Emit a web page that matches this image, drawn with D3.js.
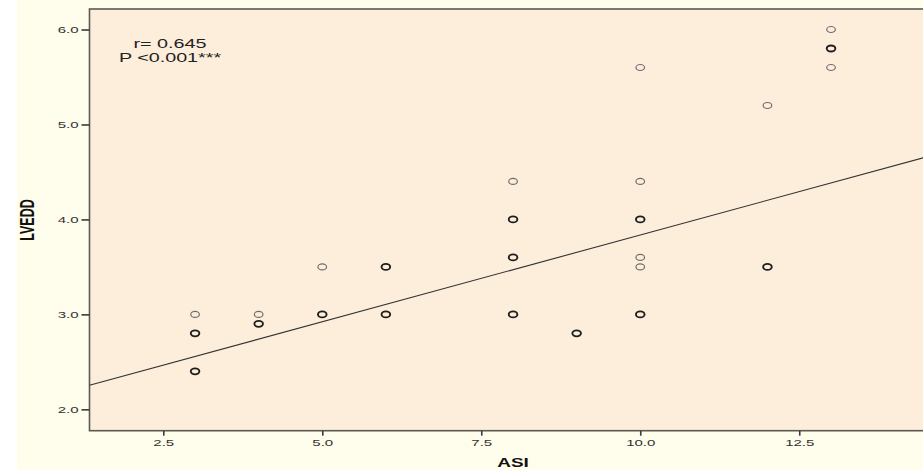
<!DOCTYPE html>
<html>
<head>
<meta charset="utf-8">
<script src="https://cdn.jsdelivr.net/npm/d3@7"></script>
<style>
  html, body { margin: 0; padding: 0; background: #ffffff; }
  svg { display: block; font-family: "Liberation Sans", Arial, sans-serif; }
</style>
</head>
<body>
<div id="container"></div>
<script>
const WIDTH = 923;
const HEIGHT = 472;
// the original picture is stretched sideways, so text gets the same stretch
const STRETCH = 1.58;

// data
const asi = [3, 3, 3, 4, 4, 5, 5, 6, 6, 8, 8, 8, 8, 9, 10, 10, 10, 10, 10, 10, 12, 12, 13, 13, 13];
const lvedd = [3.0, 2.8, 2.4, 3.0, 2.9, 3.5, 3.0, 3.5, 3.0, 4.4, 4.0, 3.6, 3.0, 2.8, 5.6, 4.4, 4.0, 3.6, 3.5, 3.0, 5.2, 3.5, 6.0, 5.8, 5.6];
// 2 = overlapping cases drawn darker
const overlap = [1, 2, 2, 1, 2, 1, 2, 2, 2, 1, 2, 2, 2, 2, 1, 1, 2, 1, 1, 2, 1, 2, 1, 2, 1];
const xTicks = [2.5, 5.0, 7.5, 10.0, 12.5];
const yTicks = [2.0, 3.0, 4.0, 5.0, 6.0];
const fitIntercept = 2.008;
const fitSlope = 0.1828;
const statLines = ["r= 0.645", "P <0.001***"];

const data = asi.map((d, i) => ({ x: d, y: lvedd[i], n: overlap[i] }));

const plot = { left: 89.5, top: 9, bottom: 430.7, right: 940 };

const svg = d3
  .select("#container")
  .append("svg")
  .attr("width", WIDTH)
  .attr("height", HEIGHT);

// cream outer panel
svg
  .append("rect")
  .attr("x", 17)
  .attr("y", 0)
  .attr("width", WIDTH - 17)
  .attr("height", 470)
  .style("fill", "#fffdeb");

const xScale = d3.scaleLinear().domain([1.34, 14.6]).range([plot.left, 932.8]);
const yScale = d3.scaleLinear().domain([1.775, 6.216]).range([plot.bottom, plot.top]);

// plot area
svg
  .append("rect")
  .attr("x", plot.left)
  .attr("y", plot.top)
  .attr("width", plot.right - plot.left)
  .attr("height", plot.bottom - plot.top)
  .style("fill", "#fdeddb")
  .style("stroke", "#5a5a55")
  .style("stroke-width", 1.6);

svg
  .append("clipPath")
  .attr("id", "clip")
  .append("rect")
  .attr("x", plot.left)
  .attr("y", plot.top)
  .attr("width", plot.right - plot.left)
  .attr("height", plot.bottom - plot.top);

// axes
const xAxis = d3
  .axisBottom(xScale)
  .tickValues(xTicks)
  .tickFormat(d3.format(".1f"))
  .tickSize(5)
  .tickSizeOuter(0);

const yAxis = d3
  .axisLeft(yScale)
  .tickValues(yTicks)
  .tickFormat(d3.format(".1f"))
  .tickSize(8)
  .tickSizeOuter(0);

const gx = svg
  .append("g")
  .attr("transform", `translate(0,${plot.bottom})`)
  .call(xAxis);

const gy = svg
  .append("g")
  .attr("transform", `translate(${plot.left},0)`)
  .call(yAxis);

[gx, gy].forEach(g => {
  g.select(".domain").remove();
  g.selectAll(".tick line").style("stroke", "#3a3a3a").style("stroke-width", 1.6);
  g.selectAll(".tick text")
    .style("font-size", "9.5px")
    .style("fill", "#333");
});

gx.selectAll(".tick text")
  .attr("y", 9)
  .attr("dy", "0.71em")
  .attr("transform", `scale(${STRETCH},1)`);

gy.selectAll(".tick text")
  .attr("x", -11 / STRETCH)
  .attr("dy", "0.36em")
  .attr("transform", `scale(${STRETCH},1)`);

// fit line
const x0 = xScale.domain()[0];
const x1 = xScale.domain()[1];
svg
  .append("line")
  .attr("clip-path", "url(#clip)")
  .attr("x1", xScale(x0))
  .attr("y1", yScale(fitIntercept + fitSlope * x0))
  .attr("x2", xScale(x1))
  .attr("y2", yScale(fitIntercept + fitSlope * x1))
  .style("stroke", "#333")
  .style("stroke-width", 1.1);

// points
svg
  .selectAll(".dot")
  .data(data)
  .enter()
  .append("ellipse")
  .attr("class", "dot")
  .attr("cx", d => xScale(d.x))
  .attr("cy", d => yScale(d.y))
  .attr("rx", 4.3)
  .attr("ry", 3.0)
  .style("fill", "none")
  .style("stroke", d => (d.n > 1 ? "#1e1e1e" : "#6e6e6e"))
  .style("stroke-width", d => (d.n > 1 ? 1.9 : 1.2));

// r / P annotation
svg
  .selectAll(".stat")
  .data(statLines)
  .enter()
  .append("text")
  .attr("class", "stat")
  .attr("transform", (d, i) => `translate(170,${48 + i * 14}) scale(${STRETCH},1)`)
  .style("text-anchor", "middle")
  .style("font-size", "12.5px")
  .style("fill", "#222")
  .text(d => d);

// axis titles
svg
  .append("text")
  .attr("transform", `translate(513,467) scale(${STRETCH},1)`)
  .style("text-anchor", "middle")
  .style("font-size", "12px")
  .style("font-weight", "bold")
  .style("fill", "#111")
  .text("ASI");

svg
  .append("text")
  .attr("transform", `translate(34,220) scale(${STRETCH},1) rotate(-90)`)
  .style("text-anchor", "middle")
  .style("font-size", "12.5px")
  .style("font-weight", "bold")
  .style("fill", "#111")
  .text("LVEDD");
</script>
</body>
</html>
